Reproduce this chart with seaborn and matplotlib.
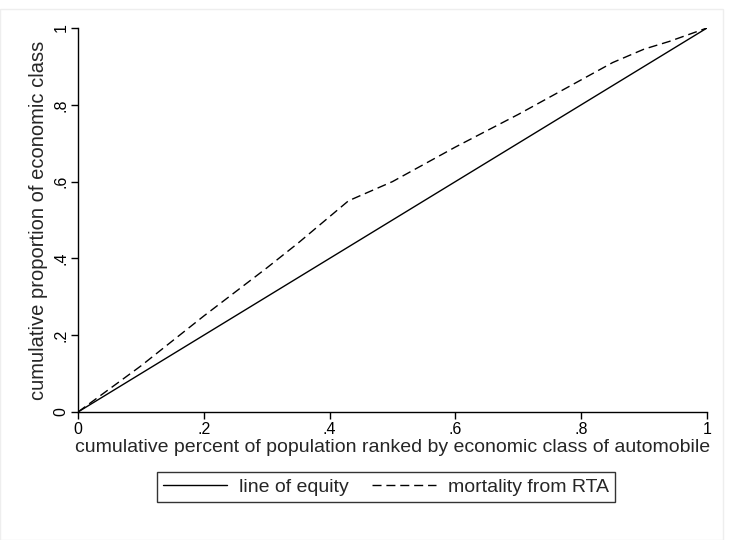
import matplotlib
matplotlib.use("Agg")
import matplotlib.pyplot as plt
import seaborn as sns
import pandas as pd
from matplotlib.patches import Rectangle

# values
pop_share = [0.0, 0.1, 0.2, 0.3, 0.35, 0.43, 0.5, 0.6, 0.7, 0.8, 0.85, 0.9, 0.94, 1.0]
equity = [0.0, 0.1, 0.2, 0.3, 0.35, 0.43, 0.5, 0.6, 0.7, 0.8, 0.85, 0.9, 0.94, 1.0]
mortality = [0.0, 0.12, 0.25, 0.375, 0.44, 0.55, 0.60, 0.69, 0.775, 0.865, 0.91, 0.945, 0.965, 1.0]
series_names = ["line of equity", "mortality from RTA"]
tick_vals = [0, 0.2, 0.4, 0.6, 0.8, 1]
tick_labels = ["0", ".2", ".4", ".6", ".8", "1"]

df = pd.DataFrame({
    "x": pop_share + pop_share,
    "y": equity + mortality,
    "series": [series_names[0]] * len(pop_share) + [series_names[1]] * len(pop_share),
})

sns.set_style("ticks")
plt.rcParams["font.family"] = ["Liberation Sans", "DejaVu Sans"]

fig = plt.figure(figsize=(7.34, 5.4), dpi=100)
ax = fig.add_axes([78 / 734, 1 - 412 / 540, (707 - 78) / 734, (412 - 28) / 540])

sns.lineplot(data=df, x="x", y="y", style="series", style_order=series_names,
             dashes={series_names[0]: "", series_names[1]: (6.5, 3.5)},
             color="black", linewidth=1.0, ax=ax, legend=False, sort=False)

ax.set_xlim(0, 1)
ax.set_ylim(0, 1)
ax.set_xticks(tick_vals)
ax.set_xticklabels(tick_labels, fontsize=11.5)
ax.set_yticks(tick_vals)
ax.set_yticklabels(tick_labels, fontsize=11.5, rotation=90, va="center")
ax.tick_params(colors="black", length=5, width=1, pad=2)
for s in ["top", "right"]:
    ax.spines[s].set_visible(False)
for s in ["left", "bottom"]:
    ax.spines[s].set_color("black")
    ax.spines[s].set_linewidth(1)

ax.set_xlabel("cumulative percent of population ranked by economic class of automobile",
              fontsize=14, labelpad=1.5)
ax.set_ylabel("cumulative proportion of economic class", fontsize=14.5, labelpad=4)

leg = fig.legend(handles=ax.get_lines()[:2], labels=series_names, ncol=2,
                 loc="center", bbox_to_anchor=(386 / 734, 1 - 487 / 540),
                 fontsize=14, handlelength=3.3, columnspacing=1.2, handletextpad=0.6,
                 fancybox=False, frameon=True, borderpad=0.3)
leg.get_frame().set_edgecolor("black")
leg.get_frame().set_linewidth(1)

# faint graph region outline
fig.patches.append(Rectangle((0, 0), 723 / 734, 1 - 9 / 540, transform=fig.transFigure,
                             fill=False, edgecolor="#eeeeee", linewidth=1))

fig.savefig("out.png", dpi=100)
